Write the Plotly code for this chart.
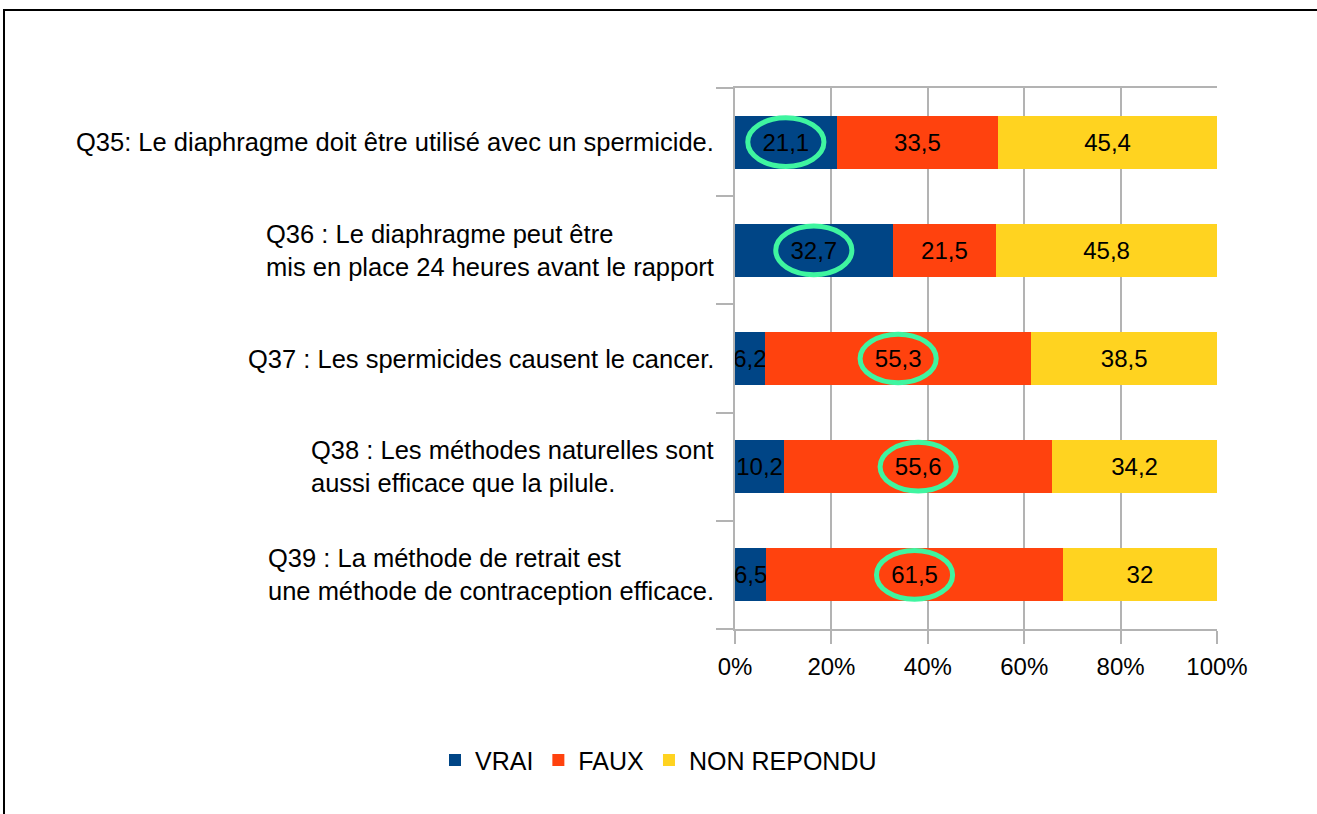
import plotly.graph_objects as go

# ---- data ----
questions = [
    "Q35: Le diaphragme doit être utilisé avec un spermicide.",
    "Q36 : Le diaphragme peut être<br>mis en place 24 heures avant le rapport",
    "Q37 : Les spermicides causent le cancer.",
    "Q38 : Les méthodes naturelles sont<br>aussi efficace que la pilule.",
    "Q39 : La méthode de retrait est<br>une méthode de contraception efficace.",
]
series_names = ["VRAI", "FAUX", "NON REPONDU"]
vrai = [21.1, 32.7, 6.2, 10.2, 6.5]
faux = [33.5, 21.5, 55.3, 55.6, 61.5]
non_repondu = [45.4, 45.8, 38.5, 34.2, 32.0]
tick_values = [0, 20, 40, 60, 80, 100]
tick_labels = ["0%", "20%", "40%", "60%", "80%", "100%"]
# which series is circled for each question (0 = VRAI, 1 = FAUX)
highlighted = [0, 0, 1, 1, 1]

colors = ["#004586", "#ff420e", "#ffd320"]
FONT = "Liberation Sans, Arial, sans-serif"
FS_CAT = 25.5
FS_VAL = 24
FS_TICK = 24
FS_LEG = 25

cat_ids = list(range(len(questions)))
series = [vrai, faux, non_repondu]


def fmt(v):
    return f"{v:g}".replace(".", ",")


fig = go.Figure()
for name, vals, col in zip(series_names, series, colors):
    fig.add_trace(go.Bar(
        name=name, y=cat_ids, x=vals, orientation="h",
        marker=dict(color=col, line=dict(width=0)),
        text=[fmt(v) for v in vals],
        textposition="inside", insidetextanchor="middle", textangle=0,
        textfont=dict(family=FONT, size=FS_VAL, color="black"),
        constraintext="none",
    ))

# ---- highlight ellipses around chosen labels ----
shapes = []
half_w = 7.9   # in % units
half_h = 0.225  # in category units
for i, s in enumerate(highlighted):
    start = sum(series[k][i] for k in range(s))
    cx = start + series[s][i] / 2
    shapes.append(dict(
        type="circle", xref="x", yref="y",
        x0=cx - half_w, x1=cx + half_w, y0=i - half_h, y1=i + half_h,
        line=dict(color="#3ff5a0", width=5), fillcolor="rgba(0,0,0,0)",
        layer="above",
    ))

# ---- outer frame (top & left edges visible) ----
shapes.append(dict(type="rect", xref="paper", yref="paper",
                   x0=-1.5166, x1=1.22, y0=-0.36, y1=1.1442,
                   line=dict(color="black", width=2), fillcolor="rgba(0,0,0,0)",
                   layer="below"))

# ---- category labels (left-aligned blocks) ----
annotations = []
for i, q in enumerate(questions):
    annotations.append(dict(
        text=q, xref="paper", yref="y", x=0, y=i, xshift=-19,
        xanchor="right", yanchor="middle", align="left", showarrow=False,
        font=dict(family=FONT, size=FS_CAT, color="black"),
    ))

fig.update_layout(
    width=1317, height=814,
    margin=dict(l=735, r=100, t=88, b=185),
    paper_bgcolor="white", plot_bgcolor="white",
    barmode="stack", bargap=0.51,
    uniformtext=dict(mode="show", minsize=FS_VAL),
    font=dict(family=FONT, size=FS_TICK, color="black"),
    shapes=shapes, annotations=annotations,
    showlegend=True,
    legend=dict(orientation="h", xref="container", yref="container",
                x=0.5, xanchor="center", y=0.066, yanchor="middle",
                font=dict(family=FONT, size=FS_LEG, color="black"),
                traceorder="normal", itemclick=False),
)
fig.update_xaxes(
    range=[0, 100], tickvals=tick_values, ticktext=tick_labels,
    showgrid=True, gridcolor="#b3b3b3", gridwidth=1.5,
    showline=True, linecolor="#b3b3b3", linewidth=1.5, mirror=True,
    ticks="outside", ticklen=13, tickcolor="#b3b3b3", tickwidth=1.5,
    ticklabelstandoff=2,
    zeroline=False, tickfont=dict(family=FONT, size=FS_TICK, color="black"),
)
fig.update_yaxes(
    type="category", autorange="reversed",
    tickvals=cat_ids, showticklabels=False, tickson="boundaries",
    ticks="outside", ticklen=17, tickcolor="#b3b3b3", tickwidth=1.5,
    showline=True, linecolor="#b3b3b3", linewidth=1.5,
    showgrid=False, zeroline=False,
)

fig.write_html("out.html", config={"displayModeBar": False},
               post_script="document.body.style.margin='0';")
